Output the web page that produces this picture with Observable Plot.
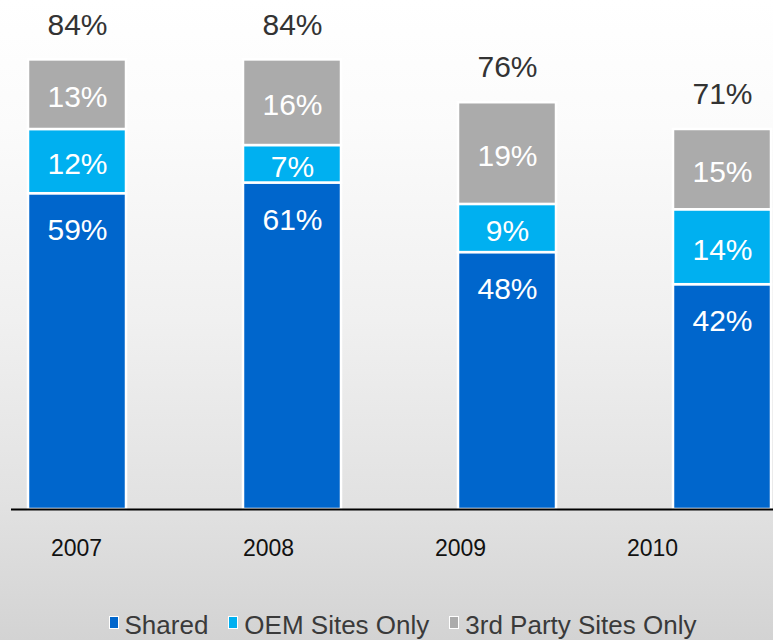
<!DOCTYPE html>
<html>
<head>
<meta charset="utf-8">
<script src="https://cdn.jsdelivr.net/npm/d3@7"></script>
<script src="https://cdn.jsdelivr.net/npm/@observablehq/plot@0.6"></script>
<style>
  html, body { margin: 0; padding: 0; }
  body {
    width: 773px; height: 640px; overflow: hidden;
    background: linear-gradient(to bottom, #ffffff 0%, #fbfbfb 20%, #f0f0f0 50%, #e2e2e2 78%, #d3d3d3 100%);
    font-family: "Liberation Sans", Arial, sans-serif;
  }
  #chart svg, #axis svg { display: block; background: transparent; }
  #legend {
    height: 60px; display: flex; justify-content: center; align-items: center;
    padding-left: 32px; padding-top: 30px; box-sizing: border-box;
    font-size: 26px; color: #3a3a3a;
  }
  .item { display: flex; align-items: center; margin: 0 10px; }
  .sw { width: 8px; height: 11px; border: 1.5px solid #fff; margin-right: 6px; margin-top: -6px; }
</style>
</head>
<body>
<div id="chart"></div>
<div id="axis"></div>
<div id="legend"></div>
<script>
const years = ["2007", "2008", "2009", "2010"];
const series = ["Shared", "OEM Sites Only", "3rd Party Sites Only"];
const colors = ["#0066CC", "#00B0F0", "#ABABAB"];
const shared = [59, 61, 48, 42];
const oem = [12, 7, 9, 14];
const thirdParty = [13, 16, 19, 15];
const totals = [84, 84, 76, 71];

const values = [shared, oem, thirdParty];
const rows = [];
years.forEach((year, i) => {
  let base = 0;
  series.forEach((s, j) => {
    const v = values[j][i];
    rows.push({year, series: s, value: v, y1: base, y2: base + v, mid: base + v / 2});
    base += v;
  });
});
const totalRows = years.map((year, i) => ({year, total: totals[i]}));
const font = "'Liberation Sans', Arial, sans-serif";

const chart = Plot.plot({
  width: 773,
  height: 520,
  marginTop: 0,
  marginBottom: 11,
  marginLeft: 11,
  marginRight: 0,
  style: {background: "transparent", fontFamily: font},
  x: {type: "band", domain: years, paddingInner: 0.546, paddingOuter: 0.037, align: 0.875, axis: null},
  y: {domain: [0, 95.1], axis: null},
  color: {domain: series, range: colors},
  marks: [
    Plot.barY(rows, {x: "year", y1: "y1", y2: "y2", fill: "series", stroke: "white", strokeWidth: 2.5}),
    Plot.text(rows.filter(d => d.series !== "Shared"), {x: "year", y: "mid", text: d => d.value + "%", fill: "white", fontSize: 30, dy: 3}),
    Plot.text(rows.filter(d => d.series === "Shared"), {x: "year", y: "y2", text: d => d.value + "%", fill: "white", fontSize: 30, dy: 37}),
    Plot.text(totalRows, {x: "year", y: "total", text: d => d.total + "%", fill: "#333333", fontSize: 30, dy: -35}),
    Plot.ruleY([0], {stroke: "#000", strokeWidth: 2})
  ]
});
document.getElementById("chart").appendChild(chart);

const axis = Plot.plot({
  width: 773,
  height: 60,
  margin: 0,
  style: {background: "transparent", fontFamily: font},
  x: {type: "point", domain: years, range: [75, 652], padding: 0, axis: null},
  marks: [
    Plot.text(years, {x: d => d, text: d => d, fontSize: 23, fill: "#111", dy: -2})
  ]
});
document.getElementById("axis").appendChild(axis);

const legend = document.getElementById("legend");
series.forEach((s, j) => {
  const item = document.createElement("div");
  item.className = "item";
  const sw = document.createElement("span");
  sw.className = "sw";
  sw.style.background = colors[j];
  const label = document.createElement("span");
  label.textContent = s;
  item.appendChild(sw);
  item.appendChild(label);
  legend.appendChild(item);
});
</script>
</body>
</html>
